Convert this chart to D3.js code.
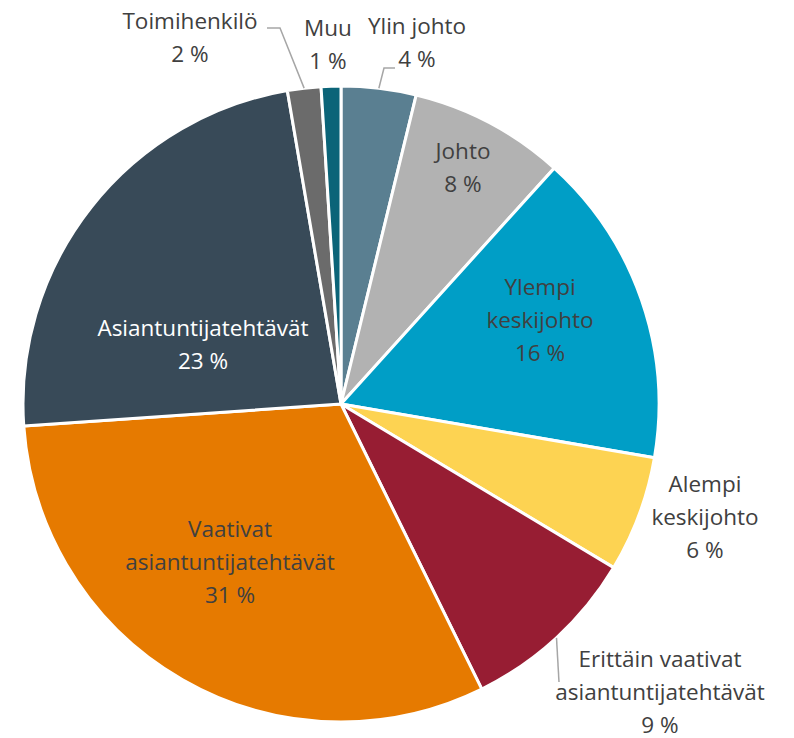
<!DOCTYPE html>
<html><head><meta charset="utf-8">
<script src="https://cdn.jsdelivr.net/npm/d3@7"></script>
<style>html,body{margin:0;padding:0;background:#fff;}svg{display:block;}</style>
</head><body>
<svg id="chart" width="794" height="738"></svg>
<script>
// Data
const categories = ["Ylin johto","Johto","Ylempi keskijohto","Alempi keskijohto","Erittäin vaativat asiantuntijatehtävät","Vaativat asiantuntijatehtävät","Asiantuntijatehtävät","Toimihenkilö","Muu"];
const values = [3.8, 7.9, 16.0, 5.9, 9.1, 31.2, 23.4, 1.7, 1.0];
const percentLabels = ["4 %","8 %","16 %","6 %","9 %","31 %","23 %","2 %","1 %"];
const labelLines = [["Ylin johto"],["Johto"],["Ylempi","keskijohto"],["Alempi","keskijohto"],["Erittäin vaativat","asiantuntijatehtävät"],["Vaativat","asiantuntijatehtävät"],["Asiantuntijatehtävät"],["Toimihenkilö"],["Muu"]];
const colors = ["#5a7f91","#b2b2b2","#009ec6","#fdd352","#971d33","#e67a00","#384a58","#6b6b6b","#0b6478"];
const textColors = ["#404040","#404040","#404040","#404040","#404040","#404040","#ffffff","#404040","#404040"];

// Layout (label block centers relative to pie center)
const cx = 341, cy = 404, R = 318;
const labelOffsets = [[76,-361],[122,-236],[199,-84],[364,113],[319,288],[-111,158],[-138,-59],[-151,-366],[-13,-359]];
const leaderMid = {0:[[54,-336],[43,-336]], 7:[[-74,-376],[-61,-376]], 4:[[218,278]]};
const lineH = 33, fontSize = 22.5;

const svg = d3.select("#chart");
const g = svg.append("g").attr("transform", `translate(${cx},${cy})`);
const pie = d3.pie().sort(null).value(d => d)(values);
const arc = d3.arc().innerRadius(0).outerRadius(R);

g.selectAll("path.slice").data(pie).join("path")
  .attr("class","slice")
  .attr("d", arc)
  .attr("fill", (d,i) => colors[i])
  .attr("stroke", "#fff").attr("stroke-width", 3).attr("stroke-linejoin","round");

// leader lines
Object.keys(leaderMid).forEach(k => {
  const i = +k, d = pie[i];
  const a = (d.startAngle + d.endAngle) / 2;
  const p0 = [R*Math.sin(a), -R*Math.cos(a)];
  const path = [p0, ...leaderMid[k].slice().reverse()];
  g.append("path").attr("d", d3.line()(path.reverse()))
    .attr("fill","none").attr("stroke","#a6a6a6").attr("stroke-width",1.5);
});

// labels
pie.forEach((d,i) => {
  const lines = labelLines[i].concat([percentLabels[i]]);
  const [ox, oy] = labelOffsets[i];
  const n = lines.length;
  const t = g.append("text")
    .attr("text-anchor","middle")
    .attr("font-family","'Open Sans', sans-serif")
    .attr("font-size", fontSize)
    .attr("fill", textColors[i]);
  lines.forEach((ln, j) => {
    t.append("tspan").attr("x", ox)
      .attr("y", oy + (j - (n-1)/2) * lineH + 7.5)
      .text(ln);
  });
});
</script>
</body></html>
